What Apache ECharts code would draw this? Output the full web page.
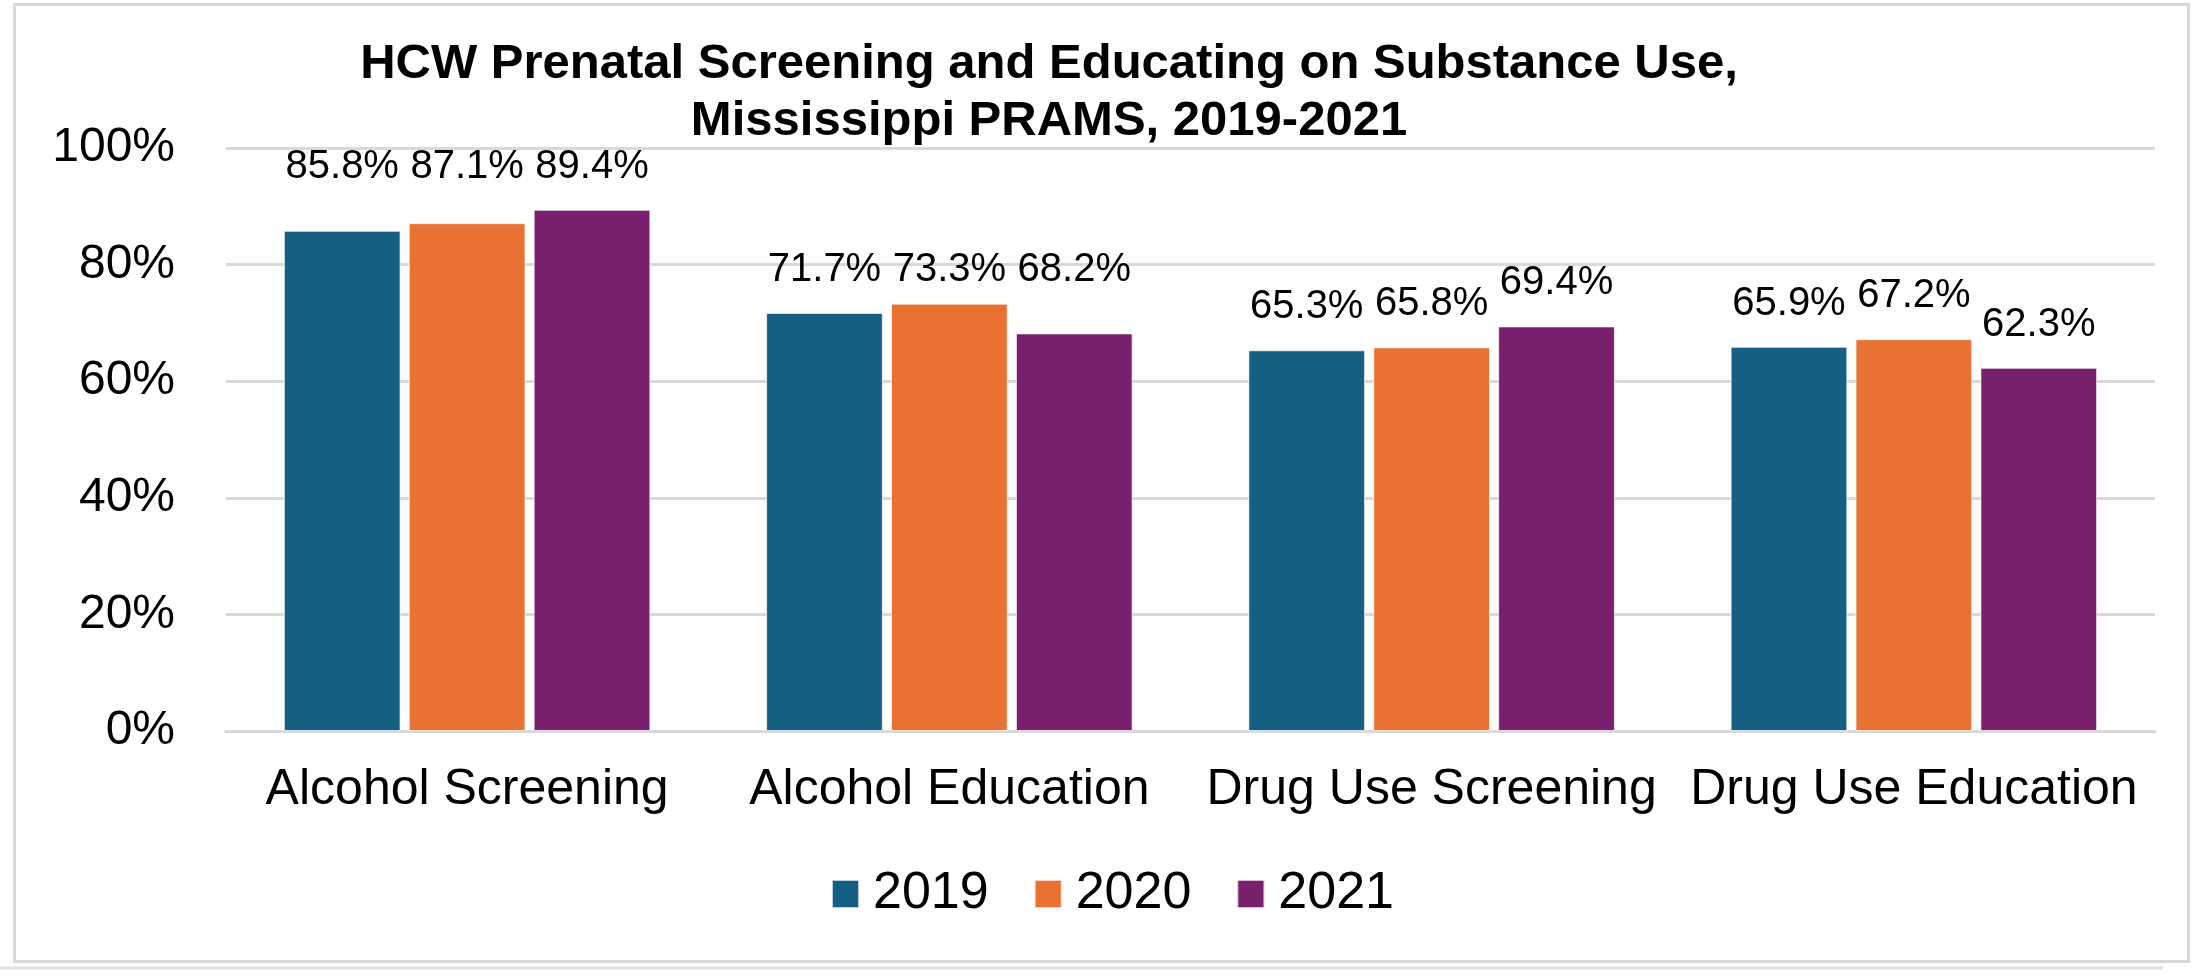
<!DOCTYPE html>
<html>
<head>
    <meta charset="UTF-8">
    <title>HCW Prenatal Screening and Educating on Substance Use</title>
    <script src="https://cdn.jsdelivr.net/npm/echarts@6/dist/echarts.min.js"></script>
    <style>
        html, body { margin: 0; padding: 0; background: #fff; }
        #chart { width: 2195px; height: 976px; }
    </style>
</head>
<body>
    <div id="chart"></div>
    <script>
        var categories = ['Alcohol Screening', 'Alcohol Education', 'Drug Use Screening', 'Drug Use Education'];
        var years = ['2019', '2020', '2021'];
        var values2019 = [85.8, 71.7, 65.3, 65.9];
        var values2020 = [87.1, 73.3, 65.8, 67.2];
        var values2021 = [89.4, 68.2, 69.4, 62.3];
        // labels in a group were lined up at one value in the original
        var labelLevel = [89.4, 71.7, null, null];
        var yTicks = [0, 20, 40, 60, 80, 100];

        var colors = ['#156082', '#E97132', '#78206E'];
        var font = "'Liberation Sans', Arial, sans-serif";

        var chart = echarts.init(document.getElementById('chart'), null, {renderer: 'canvas'});

        function makeSeries(name, values, color) {
            return {
                name: name,
                type: 'bar',
                data: values,
                barGap: '7%',
                barCategoryGap: '24%',
                itemStyle: {color: color, borderColor: 'rgba(255,255,255,0.7)', borderWidth: 1},
                label: {
                    show: true,
                    position: 'top',
                    distance: 23,
                    fontFamily: font,
                    fontSize: 40,
                    color: '#000',
                    formatter: function (p) { return p.value.toFixed(1) + '%'; }
                }
            };
        }

        var allValues = [values2019, values2020, values2021];

        chart.setOption({
            animation: false,
            backgroundColor: '#fff',
            title: {
                text: 'HCW Prenatal Screening and Educating on Substance Use,\nMississippi PRAMS, 2019-2021',
                left: 1049,
                top: 36,
                padding: 0,
                textAlign: 'center',
                textStyle: {fontFamily: font, fontSize: 49, fontWeight: 'bold', color: '#000', lineHeight: 57}
            },
            legend: {
                data: years,
                left: 826,
                top: 863,
                icon: 'rect',
                itemWidth: 27,
                itemHeight: 28,
                itemGap: 45,
                textStyle: {fontFamily: font, fontSize: 52, color: '#000', padding: [0, 0, 0, 9]}
            },
            grid: {left: 226, right: 40, top: 148, bottom: 245},
            xAxis: {
                type: 'category',
                data: categories,
                axisTick: {show: false},
                axisLine: {lineStyle: {color: '#d9d9d9', width: 3}},
                axisLabel: {fontFamily: font, fontSize: 50, color: '#000', margin: 34, interval: 0}
            },
            yAxis: {
                type: 'value',
                min: yTicks[0],
                max: yTicks[yTicks.length - 1],
                interval: yTicks[1] - yTicks[0],
                axisLine: {show: false},
                axisTick: {show: false},
                splitLine: {lineStyle: {color: '#d9d9d9', width: 3}},
                axisLabel: {fontFamily: font, fontSize: 48, color: '#000', margin: 51, formatter: '{value}%'}
            },
            graphic: [
                {type: 'rect', shape: {x: 14.5, y: 4.5, width: 2174, height: 957},
                    style: {fill: 'none', stroke: '#d9d9d9', lineWidth: 3}, silent: true},
                {type: 'line', shape: {x1: 0, y1: 968, x2: 2163, y2: 968},
                    style: {stroke: '#e0e0e0', lineWidth: 3}, silent: true}
            ],
            series: years.map(function (y, i) { return makeSeries(y, allValues[i], colors[i]); })
        });

        // move labels of lined-up groups to the shared level, using the axis scale
        chart.setOption({
            series: allValues.map(function (vals) {
                return {
                    data: vals.map(function (v, c) {
                        if (labelLevel[c] == null) return v;
                        var dy = chart.convertToPixel({yAxisIndex: 0}, labelLevel[c]) -
                                 chart.convertToPixel({yAxisIndex: 0}, v);
                        return {value: v, label: {offset: [0, dy]}};
                    })
                };
            })
        });
    </script>
</body>
</html>
